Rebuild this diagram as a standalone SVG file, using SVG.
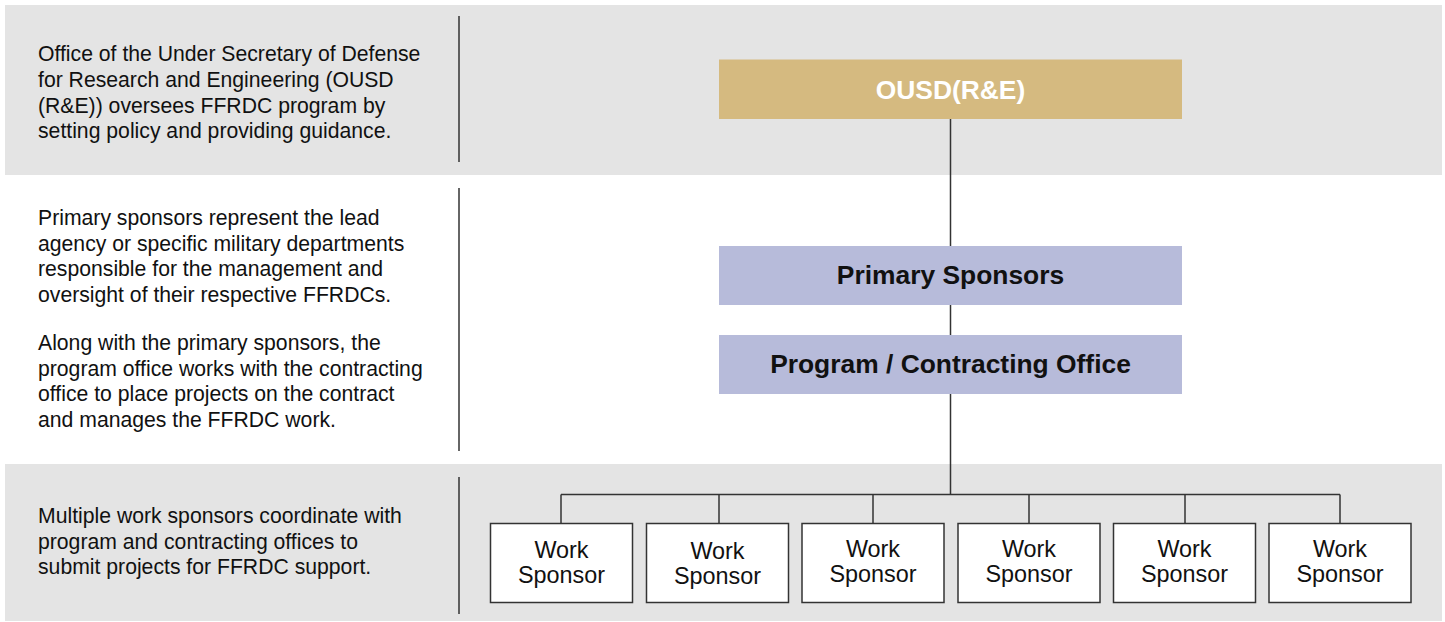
<svg xmlns="http://www.w3.org/2000/svg" width="1445" height="622" viewBox="0 0 1445 622">
  <style>
    .band { fill: #E4E4E4; }
    .divider { stroke: #333333; stroke-width: 1.5; }
    .desc { font-family: "Liberation Sans", Arial, sans-serif; font-size: 21.2px; fill: #111111; }
    .head { font-family: "Liberation Sans", Arial, sans-serif; font-size: 26.4px; font-weight: bold; text-anchor: middle; }
    .gold { fill: #D5BA80; }
    .lilac { fill: #B7BBDA; }
    .ws rect { fill: #FFFFFF; stroke: #333333; stroke-width: 1.5; }
    .ws text { font-family: "Liberation Sans", Arial, sans-serif; font-size: 23.4px; fill: #111111; text-anchor: middle; }
    .conn { fill: none; stroke: #333333; stroke-width: 1.5; }
  </style>

  <!-- background bands -->
  <rect x="0" y="0" width="1445" height="622" fill="#FFFFFF"/>
  <rect class="band" x="5" y="5" width="1437" height="170"/>
  <rect class="band" x="5" y="464" width="1437" height="157"/>

  <!-- column dividers -->
  <line class="divider" x1="459" y1="16" x2="459" y2="162"/>
  <line class="divider" x1="459" y1="188" x2="459" y2="451"/>
  <line class="divider" x1="459" y1="477" x2="459" y2="614"/>

  <!-- descriptions -->
  <g id="desc-oversight">
    <text class="desc" x="38" y="61">Office of the Under Secretary of Defense</text>
    <text class="desc" x="38" y="87">for Research and Engineering (OUSD</text>
    <text class="desc" x="38" y="112.5">(R&amp;E)) oversees FFRDC program by</text>
    <text class="desc" x="38" y="138">setting policy and providing guidance.</text>
  </g>
  <g id="desc-sponsors">
    <text class="desc" x="38" y="225">Primary sponsors represent the lead</text>
    <text class="desc" x="38" y="250.5">agency or specific military departments</text>
    <text class="desc" x="38" y="276">responsible for the management and</text>
    <text class="desc" x="38" y="301.5">oversight of their respective FFRDCs.</text>
    <text class="desc" x="38" y="350">Along with the primary sponsors, the</text>
    <text class="desc" x="38" y="375.5">program office works with the contracting</text>
    <text class="desc" x="38" y="401">office to place projects on the contract</text>
    <text class="desc" x="38" y="426.5">and manages the FFRDC work.</text>
  </g>
  <g id="desc-work">
    <text class="desc" x="38" y="523">Multiple work sponsors coordinate with</text>
    <text class="desc" x="38" y="548.5">program and contracting offices to</text>
    <text class="desc" x="38" y="574">submit projects for FFRDC support.</text>
  </g>

  <!-- connectors -->
  <g id="connectors">
    <line class="conn" x1="950.5" y1="119" x2="950.5" y2="246"/>
    <line class="conn" x1="950.5" y1="305" x2="950.5" y2="335"/>
    <line class="conn" x1="950.5" y1="394" x2="950.5" y2="494.5"/>
    <line class="conn" x1="561" y1="494.5" x2="1340" y2="494.5"/>
    <line class="conn" x1="561" y1="494.5" x2="561" y2="523.5"/>
    <line class="conn" x1="719" y1="494.5" x2="719" y2="523.5"/>
    <line class="conn" x1="873" y1="494.5" x2="873" y2="523.5"/>
    <line class="conn" x1="1029" y1="494.5" x2="1029" y2="523.5"/>
    <line class="conn" x1="1185" y1="494.5" x2="1185" y2="523.5"/>
    <line class="conn" x1="1340" y1="494.5" x2="1340" y2="523.5"/>
  </g>

  <!-- hierarchy nodes -->
  <g id="ousd">
    <rect class="gold" x="719" y="59.5" width="463" height="59.5"/>
    <text class="head" x="950.5" y="99" fill="#FFFFFF">OUSD(R&amp;E)</text>
  </g>
  <g id="primary-sponsors">
    <rect class="lilac" x="719" y="246" width="463" height="59"/>
    <text class="head" x="950.5" y="284" fill="#111111">Primary Sponsors</text>
  </g>
  <g id="program-office">
    <rect class="lilac" x="719" y="335" width="463" height="59"/>
    <text class="head" x="950.5" y="373" fill="#111111">Program / Contracting Office</text>
  </g>

  <!-- work sponsors -->
  <g id="ws1" class="ws">
    <rect x="490.5" y="523.5" width="142" height="79"/>
    <text x="561.5" y="558">Work</text>
    <text x="561.5" y="582.5">Sponsor</text>
  </g>
  <g id="ws2" class="ws">
    <rect x="646.5" y="523.5" width="142" height="79"/>
    <text x="717.5" y="559">Work</text>
    <text x="717.5" y="583.5">Sponsor</text>
  </g>
  <g id="ws3" class="ws">
    <rect x="802" y="523.5" width="142" height="79"/>
    <text x="873" y="557">Work</text>
    <text x="873" y="581.5">Sponsor</text>
  </g>
  <g id="ws4" class="ws">
    <rect x="958" y="523.5" width="142" height="79"/>
    <text x="1029" y="557">Work</text>
    <text x="1029" y="581.5">Sponsor</text>
  </g>
  <g id="ws5" class="ws">
    <rect x="1113.5" y="523.5" width="142" height="79"/>
    <text x="1184.5" y="557">Work</text>
    <text x="1184.5" y="581.5">Sponsor</text>
  </g>
  <g id="ws6" class="ws">
    <rect x="1269" y="523.5" width="142" height="79"/>
    <text x="1340" y="557">Work</text>
    <text x="1340" y="581.5">Sponsor</text>
  </g>
</svg>
